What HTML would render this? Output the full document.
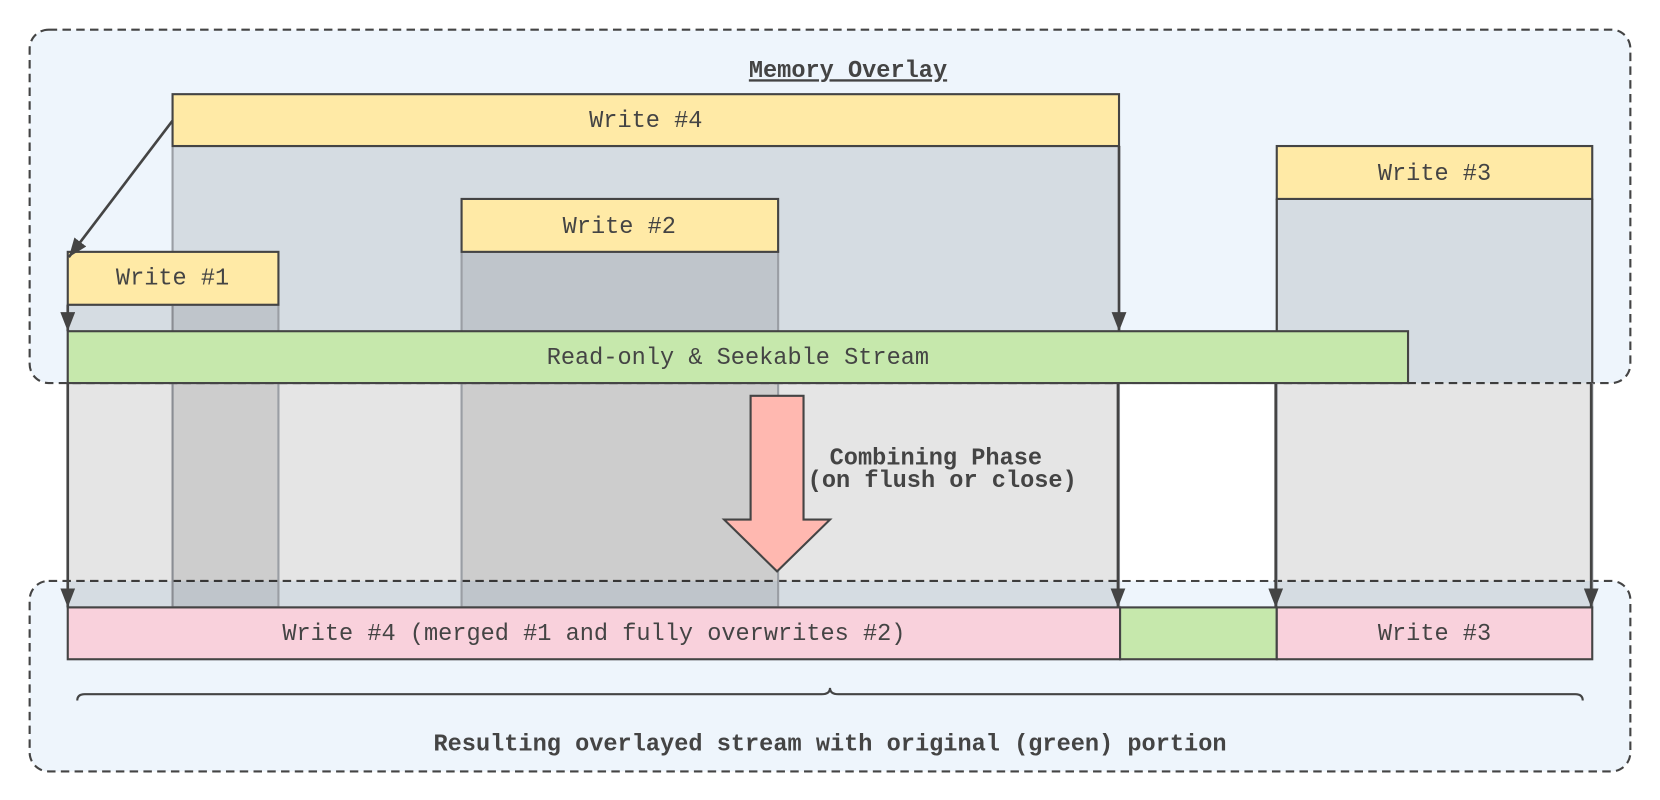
<!DOCTYPE html>
<html><head><style>
html,body{margin:0;padding:0;background:#fff;width:1660px;height:800px;overflow:hidden}
svg{display:block}
svg text{font-family:"Liberation Mono",monospace;fill:#444}
</style></head><body>
<svg width="1660" height="800" viewBox="0 0 1568 756" preserveAspectRatio="none" xmlns="http://www.w3.org/2000/svg">
<defs><marker id="a" markerWidth="18" markerHeight="14" refX="18" refY="7" orient="auto" markerUnits="userSpaceOnUse" viewBox="0 0 18 14"><path d="M0,0 L18,7 L0,14 z" fill="#444"/></marker></defs>
<rect x="28" y="28" width="1512" height="334" rx="18" fill="#eef5fc" stroke="#444" stroke-width="2" stroke-dasharray="8,5"/>
<rect x="28" y="549" width="1512" height="180" rx="18" fill="#eef5fc" stroke="#444" stroke-width="2" stroke-dasharray="8,5"/>
<g fill="rgba(0,0,0,0.1)" stroke="#9a9ea4" stroke-width="2">
<rect x="163" y="138" width="894" height="436"/>
<rect x="436" y="238" width="299" height="336"/>
<rect x="64" y="288" width="199" height="286"/>
<rect x="1206" y="188" width="298" height="386"/>
</g>
<rect x="1058" y="363" width="147" height="185" fill="#fff"/>
<g stroke="#444" stroke-width="2">
<line x1="1206" y1="188" x2="1206" y2="313"/>
<line x1="1504" y1="188" x2="1504" y2="362"/>
<rect x="163" y="89" width="894" height="49" fill="#ffeaa6"/>
<rect x="436" y="188" width="299" height="50" fill="#ffeaa6"/>
<rect x="64" y="238" width="199" height="50" fill="#ffeaa6"/>
<rect x="1206" y="138" width="298" height="50" fill="#ffeaa6"/>
<rect x="64" y="313" width="1266" height="49" fill="#c6e8ac"/>
<rect x="64" y="574" width="994" height="49" fill="#f9d1dc"/>
<rect x="1058" y="574" width="148" height="49" fill="#c6e8ac"/>
<rect x="1206" y="574" width="298" height="49" fill="#f9d1dc"/>
</g>
<g stroke="#444" stroke-width="2.5" fill="none">
<line x1="163" y1="114" x2="65" y2="243" marker-end="url(#a)"/>
<line x1="64" y1="288" x2="64" y2="313" marker-end="url(#a)"/>
<line x1="1057" y1="138" x2="1057" y2="313" marker-end="url(#a)"/>
<line x1="64" y1="362" x2="64" y2="574" marker-end="url(#a)"/>
<line x1="1056" y1="362" x2="1056" y2="574" marker-end="url(#a)"/>
<line x1="1205" y1="362" x2="1205" y2="574" marker-end="url(#a)"/>
<line x1="1503" y1="362" x2="1503" y2="574" marker-end="url(#a)"/>
</g>
<path d="M709,374 H759 V491 H784 L734,540 L684,491 H709 Z" fill="#ffb8b0" stroke="#444" stroke-width="2"/>
<path d="M73,662 Q73,656 80,656 H776 Q784,656 784,650 Q784,656 792,656 H1488 Q1495,656 1495,662" fill="none" stroke="#444" stroke-width="2"/>
<g font-size="22.3" text-anchor="middle">
<text x="801" y="73" font-weight="bold" text-decoration="underline">Memory Overlay</text>
<text x="610" y="120">Write #4</text>
<text x="585" y="220">Write #2</text>
<text x="163" y="269">Write #1</text>
<text x="1355" y="170">Write #3</text>
<text x="697" y="344">Read-only &amp; Seekable Stream</text>
<text x="561" y="605">Write #4 (merged #1 and fully overwrites #2)</text>
<text x="1355" y="605">Write #3</text>
<text x="884" y="439" font-weight="bold">Combining Phase</text>
<text x="890" y="460" font-weight="bold">(on flush or close)</text>
<text x="784" y="709" font-weight="bold">Resulting overlayed stream with original (green) portion</text>
</g>
</svg>
</body></html>
